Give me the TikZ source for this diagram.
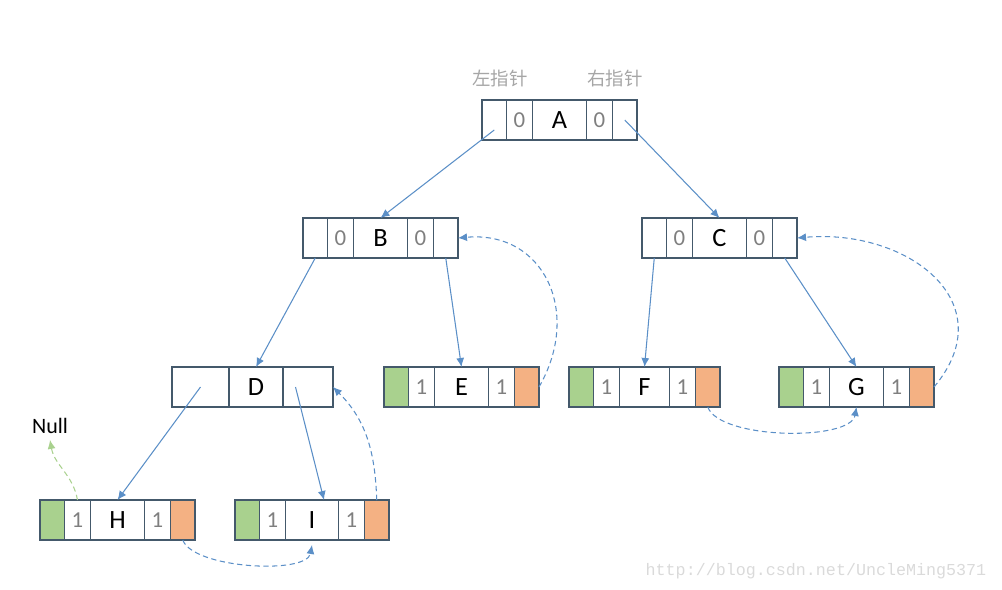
\documentclass[tikz,border=0pt]{standalone}
\usepackage{fontspec}
\setmainfont{Carlito}
\newfontfamily\cjk{Noto Sans CJK SC}
\newfontfamily\wmfont{Liberation Mono}
\usetikzlibrary{arrows.meta,positioning}
\definecolor{boxline}{HTML}{44596B}
\definecolor{link}{HTML}{5B8FC7}
\definecolor{threadl}{HTML}{A9D18E}
\definecolor{threadr}{HTML}{F4B183}
\definecolor{tagtext}{HTML}{7F7F7F}
\definecolor{captext}{HTML}{A6A6A6}
\definecolor{wmgray}{HTML}{DADADA}
\tikzset{
  cell/.style={draw=boxline,line width=0.6pt,outer sep=0pt,inner sep=0pt,minimum height=0.8cm},
  ptr/.style={cell,minimum width=0.49cm},
  lthread/.style={ptr,fill=threadl},
  rthread/.style={ptr,fill=threadr},
  tag/.style={cell,minimum width=0.52cm,text=tagtext,font=\fontsize{13}{15}\selectfont},
  data/.style={cell,minimum width=1.08cm,font=\fontsize{15}{17}\selectfont},
  caption/.style={text=captext,font=\cjk\fontsize{10.5}{12}\selectfont},
  arrow/.style={-{Latex[length=1.8mm,width=1.6mm]},link,line width=0.6pt},
  thread/.style={arrow,dash pattern=on 3pt off 2pt},
  nullarrow/.style={thread,threadl}
}
\begin{document}
\begin{tikzpicture}
  \useasboundingbox (0,0) rectangle (20.04,-11.78);

  % level 0
  \node[ptr,anchor=west] (A-l) at (9.64,-2.4) {};
  \node[tag,right=0pt of A-l] (A-lt) {0};
  \node[data,right=0pt of A-lt] (A) {A};
  \node[tag,right=0pt of A] (A-rt) {0};
  \node[ptr,right=0pt of A-rt] (A-r) {};
  \node[caption] (cap-l) at (10.0,-1.56) {左指针};
  \node[caption] (cap-r) at (12.3,-1.56) {右指针};

  % level 1
  \node[ptr,anchor=west] (B-l) at (6.06,-4.76) {};
  \node[tag,right=0pt of B-l] (B-lt) {0};
  \node[data,right=0pt of B-lt] (B) {B};
  \node[tag,right=0pt of B] (B-rt) {0};
  \node[ptr,right=0pt of B-rt] (B-r) {};

  \node[ptr,anchor=west] (C-l) at (12.84,-4.76) {};
  \node[tag,right=0pt of C-l] (C-lt) {0};
  \node[data,right=0pt of C-lt] (C) {C};
  \node[tag,right=0pt of C] (C-rt) {0};
  \node[ptr,right=0pt of C-rt] (C-r) {};

  % level 2
  \node[cell,minimum width=1.14cm,anchor=west] (D-l) at (3.44,-7.74) {};
  \node[data,right=0pt of D-l] (D) {D};
  \node[cell,minimum width=1.0cm,right=0pt of D] (D-r) {};

  \node[lthread,anchor=west] (E-l) at (7.68,-7.74) {};
  \node[tag,right=0pt of E-l] (E-lt) {1};
  \node[data,right=0pt of E-lt] (E) {E};
  \node[tag,right=0pt of E] (E-rt) {1};
  \node[rthread,right=0pt of E-rt] (E-r) {};

  \node[lthread,anchor=west] (F-l) at (11.38,-7.74) {};
  \node[tag,right=0pt of F-l] (F-lt) {1};
  \node[data,minimum width=1.0cm,right=0pt of F-lt] (F) {F};
  \node[tag,right=0pt of F] (F-rt) {1};
  \node[rthread,right=0pt of F-rt] (F-r) {};

  \node[lthread,anchor=west] (G-l) at (15.58,-7.74) {};
  \node[tag,right=0pt of G-l] (G-lt) {1};
  \node[data,right=0pt of G-lt] (G) {G};
  \node[tag,right=0pt of G] (G-rt) {1};
  \node[rthread,right=0pt of G-rt] (G-r) {};

  % level 3
  \node[lthread,anchor=west] (H-l) at (0.8,-10.4) {};
  \node[tag,right=0pt of H-l] (H-lt) {1};
  \node[data,right=0pt of H-lt] (H) {H};
  \node[tag,right=0pt of H] (H-rt) {1};
  \node[rthread,right=0pt of H-rt] (H-r) {};

  \node[lthread,anchor=west] (I-l) at (4.7,-10.4) {};
  \node[tag,right=0pt of I-l] (I-lt) {1};
  \node[data,minimum width=1.06cm,right=0pt of I-lt] (I) {I};
  \node[tag,right=0pt of I] (I-rt) {1};
  \node[rthread,right=0pt of I-rt] (I-r) {};

  \node[font=\fontsize{12.5}{14}\selectfont] (null) at (1.0,-8.52) {Null};
  \node[font=\wmfont\fontsize{9.5}{11}\selectfont,text=wmgray,anchor=east] (url) at (19.85,-11.42) {http://blog.csdn.net/UncleMing5371};

  % child links
  \draw[arrow] ([yshift=-2mm]A-l.center) -- (B.north);
  \draw[arrow] (A-r.center) -- (C.north);
  \draw[arrow] (B-l.south) -- (D.north);
  \draw[arrow] (B-r.south) -- (E.north);
  \draw[arrow] (C-l.south) -- (F.north);
  \draw[arrow] (C-r.south) -- (G.north);
  \draw[arrow] (D-l.center) -- (H.north);
  \draw[arrow] ([xshift=-2.5mm]D-r.center) -- ([xshift=2.4mm]I.north);

  % threads
  \draw[thread] (E-r.east) to[out=60,in=5,looseness=1.3] (B-r.east);
  \draw[thread] (G-r.east) to[out=50,in=5,looseness=1.4] (C-r.east);
  \draw[thread] (F-r.south) to[out=-70,in=-100,looseness=0.6] (G.south);
  \draw[thread] (H-r.south) to[out=-70,in=-100,looseness=0.6] ([yshift=-1mm]I.south);
  \draw[thread] (I-r.north) to[out=92,in=-45] (D-r.east);
  \draw[nullarrow] (H-lt.north) to[out=100,in=-80] (null.south);
\end{tikzpicture}
\end{document}
